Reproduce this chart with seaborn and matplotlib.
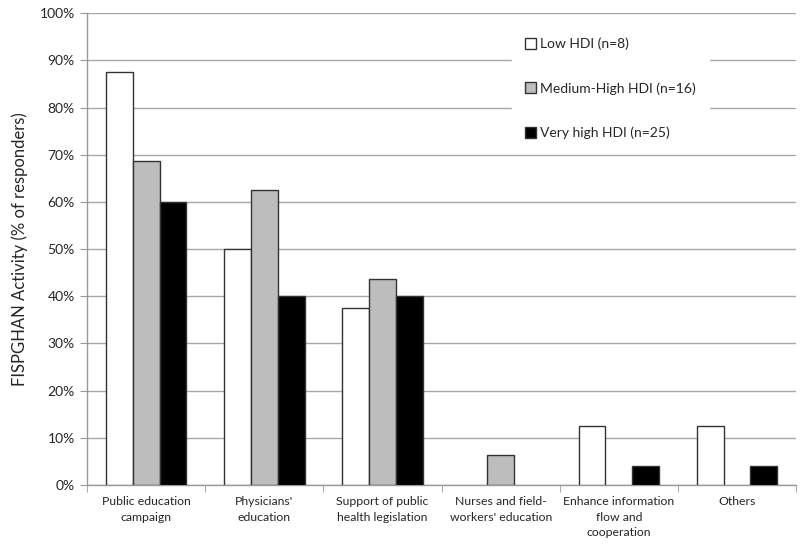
import matplotlib
matplotlib.use("Agg")
import matplotlib.pyplot as plt
import seaborn as sns
import pandas as pd
import numpy as np
from matplotlib.ticker import PercentFormatter, FixedLocator

categories = ["Public education\ncampaign", "Physicians'\neducation", "Support of public\nhealth legislation",
              "Nurses and field-\nworkers' education", "Enhance information\nflow and\ncooperation", "Others"]
groups = ["Low HDI (n=8)", "Medium-High HDI (n=16)", "Very high HDI (n=25)"]
low_hdi = [87.5, 50.0, 37.5, 0.0, 12.5, 12.5]
med_high_hdi = [68.75, 62.5, 43.75, 6.25, 0.0, 0.0]
very_high_hdi = [60.0, 40.0, 40.0, 0.0, 4.0, 4.0]
colors = ["#ffffff", "#bdbdbd", "#000000"]

rows = []
for g, vals in zip(groups, [low_hdi, med_high_hdi, very_high_hdi]):
    for c, v in zip(categories, vals):
        rows.append({"cat": c, "grp": g, "val": v})
df = pd.DataFrame(rows)

sns.set_style("white")
plt.rcParams['font.family'] = ['Lato', 'DejaVu Sans']

fig = plt.figure(figsize=(8, 5.53), dpi=100)
ax = fig.add_axes([0.109, 0.123, 0.886, 0.853])
sns.barplot(data=df, x="cat", y="val", hue="grp", palette=colors, order=categories,
            hue_order=groups, width=0.68, edgecolor="#333333", linewidth=1.0, ax=ax, zorder=3)
for p in ax.patches:
    if p.get_height() == 0:
        p.set_linewidth(0)
ax.set_ylim(0, 100)
ax.set_xlim(-0.5, 5.5)
ax.set_yticks(np.arange(0, 101, 10))
ax.yaxis.set_major_formatter(PercentFormatter(decimals=0))
ax.yaxis.grid(True, color="#a8a8a8", linewidth=1.0, zorder=0)
ax.set_axisbelow(True)
ax.set_xlabel("")
ax.set_ylabel("FISPGHAN Activity (% of responders)", fontsize=12, labelpad=8)
for s in ["top", "right"]:
    ax.spines[s].set_visible(False)
for s in ["left", "bottom"]:
    ax.spines[s].set_color("#999999")
    ax.spines[s].set_linewidth(1.0)
ax.tick_params(axis="y", labelsize=10, length=5, color="#999999", direction="out", left=True, pad=4)
ax.tick_params(axis="x", which="major", labelsize=8.8, length=0, pad=8)
for t in ax.get_xticklabels():
    t.set_linespacing(1.5)
ax.xaxis.set_minor_locator(FixedLocator(np.arange(-0.5, 6.0, 1.0)))
ax.tick_params(axis="x", which="minor", length=5, color="#999999", direction="out", bottom=True)

leg = ax.legend(loc="upper left", bbox_to_anchor=(0.60, 0.975), frameon=True, fancybox=False,
                edgecolor="white", facecolor="white", framealpha=1.0, fontsize=10,
                labelspacing=2.3, handlelength=0.8, handleheight=0.8, handletextpad=0.3,
                borderpad=0.9, borderaxespad=0)
for h in leg.legend_handles:
    h.set_edgecolor("#333333")
    h.set_linewidth(1.0)

fig.savefig("out.png", dpi=100, facecolor="white")
